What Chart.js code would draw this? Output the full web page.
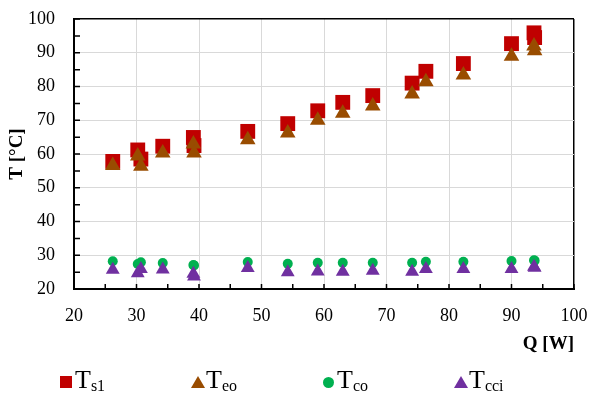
<!DOCTYPE html>
<html>
<head>
<meta charset="utf-8">
<script src="https://cdn.jsdelivr.net/npm/chart.js@4/dist/chart.umd.min.js"></script>
<style>
  body { margin: 0; background: #fff; }
  #wrap { position: relative; width: 590px; height: 397px; }
  #legend { position: absolute; left: 0; top: 0; width: 590px; height: 397px; pointer-events: none;
    font-family: "Liberation Serif", "Times New Roman", serif; color: #000; }
  .item { position: absolute; top: 367px; height: 26px; font-size: 26px; line-height: 26px; white-space: nowrap; }
  .item .txt { position: absolute; left: 15px; top: 0; }
  .item sub { font-size: 16px; vertical-align: -3px; line-height: 0; }
  .mk { position: absolute; }
</style>
</head>
<body>
<div id="wrap">
  <canvas id="chart" width="590" height="397"></canvas>
  <div id="legend"></div>
</div>
<script>
// heat input Q [W]
const qValues = [26.2, 30.2, 30.7, 34.2, 39.1, 39.2, 47.8, 54.2, 59.0, 63.0, 67.8, 74.1, 76.3, 82.3, 90.0, 93.6, 93.7];

// temperatures [°C]
const ts1 = [57.8, 61.2, 58.5, 62.3, 64.9, 62.5, 66.7, 69.0, 72.8, 75.3, 77.3, 81.0, 84.5, 86.8, 92.7, 95.9, 94.5];
const teo = [56.6, 59.4, 56.4, 60.3, 63.0, 60.3, 64.2, 66.2, 70.0, 72.1, 74.2, 77.8, 81.4, 83.4, 89.0, 92.0, 90.6];
const tco = [28.2, 27.4, 27.9, 27.7, 27.1, 27.0, 28.0, 27.5, 27.8, 27.8, 27.8, 27.8, 28.1, 28.1, 28.3, 28.5, 28.4];
const tcci = [25.7, 24.7, 25.9, 25.8, 24.5, 23.7, 26.2, 25.0, 25.2, 25.1, 25.4, 25.1, 25.9, 25.9, 25.9, 26.6, 26.3];

const seriesSubs = ["s1", "eo", "co", "cci"];
const seriesColors = ["#C00000", "#994C00", "#00B050", "#7030A0"];
const seriesStyles = ["rect", "triangle", "circle", "triangle"];
const seriesRadius = [10.5, 9, 5, 8];

const serif = "'Liberation Serif', 'Times New Roman', serif";

function toPoints(ys) {
  return qValues.map((q, i) => ({ x: q, y: ys[i] }));
}

const allSeries = [ts1, teo, tco, tcci];
const datasets = allSeries.map((ys, i) => ({
  label: "T" + seriesSubs[i],
  data: toPoints(ys),
  pointStyle: seriesStyles[i],
  pointRadius: seriesRadius[i],
  pointHoverRadius: seriesRadius[i],
  backgroundColor: seriesColors[i],
  borderColor: seriesColors[i],
  borderWidth: 0,
  order: 4 - i
}));

// small tick marks pointing into the plot
const innerTicks = {
  id: "innerTicks",
  beforeDatasetsDraw(chart) {
    const { ctx, chartArea, scales } = chart;
    ctx.save();
    ctx.strokeStyle = "#000";
    ctx.lineWidth = 1.5;
    ctx.beginPath();
    scales.x.ticks.forEach(t => {
      const px = scales.x.getPixelForValue(t.value);
      ctx.moveTo(px, chartArea.bottom);
      ctx.lineTo(px, chartArea.bottom - 5);
    });
    scales.y.ticks.forEach(t => {
      const py = scales.y.getPixelForValue(t.value);
      ctx.moveTo(chartArea.left, py);
      ctx.lineTo(chartArea.left + 6, py);
    });
    ctx.stroke();
    ctx.restore();
  }
};

function gridColor(c) {
  const v = c.tick.value;
  if (v % 10 !== 0) return "rgba(0,0,0,0)";
  return v === 100 ? "#000" : "#d9d9d9";
}
function gridWidth(c) {
  return c.tick.value === 100 ? 1.5 : 1;
}

const chart = new Chart(document.getElementById("chart").getContext("2d"), {
  type: "scatter",
  data: { datasets },
  options: {
    responsive: false,
    animation: false,
    layout: { padding: { left: 0, right: 16, top: 19, bottom: 40 } },
    plugins: {
      legend: { display: false },
      tooltip: { enabled: false }
    },
    scales: {
      x: {
        type: "linear",
        min: 20, max: 100,
        afterFit: s => { s.height = 68; s.paddingLeft = 0; s.paddingRight = 0; },
        ticks: {
          stepSize: 5,
          padding: 16,
          color: "#000",
          maxRotation: 0,
          autoSkip: false,
          font: { family: serif, size: 18 },
          callback: v => (v % 10 === 0 ? v : "")
        },
        grid: { color: gridColor, lineWidth: gridWidth, drawTicks: false },
        border: { display: true, color: "#000", width: 2 },
        title: {
          display: true, text: "Q [W]", align: "end", color: "#000",
          font: { family: serif, size: 19, weight: "bold" },
          padding: { top: 0, bottom: 2 }
        }
      },
      y: {
        min: 20, max: 100,
        afterFit: s => { s.width = 74; s.paddingTop = 0; s.paddingBottom = 0; },
        ticks: {
          stepSize: 5,
          padding: 19,
          color: "#000",
          autoSkip: false,
          font: { family: serif, size: 18 },
          callback: v => (v % 10 === 0 ? v : "")
        },
        grid: { color: gridColor, lineWidth: gridWidth, drawTicks: false },
        border: { display: true, color: "#000", width: 2 },
        title: {
          display: true, text: "T [°C]", color: "#000",
          font: { family: serif, size: 19, weight: "bold" },
          padding: { top: 6, bottom: 0 }
        }
      }
    }
  },
  plugins: [innerTicks]
});

// HTML legend so the subscripts stay as real text
const legendLeft = [60, 191, 322, 454];
const legend = document.getElementById("legend");
chart.data.datasets.forEach((ds, i) => {
  const item = document.createElement("div");
  item.className = "item";
  item.style.left = legendLeft[i] + "px";
  const mk = document.createElement("div");
  mk.className = "mk";
  const col = seriesColors[i];
  if (seriesStyles[i] === "rect") {
    Object.assign(mk.style, { left: "0px", top: "9px", width: "12px", height: "12px", background: col });
  } else if (seriesStyles[i] === "circle") {
    Object.assign(mk.style, { left: "1px", top: "10px", width: "11px", height: "11px", background: col, borderRadius: "50%" });
  } else {
    Object.assign(mk.style, { left: "0px", top: "9px", width: "0", height: "0",
      borderLeft: "7px solid transparent", borderRight: "7px solid transparent", borderBottom: "12px solid " + col });
  }
  item.appendChild(mk);
  const txt = document.createElement("span");
  txt.className = "txt";
  txt.innerHTML = "T<sub>" + seriesSubs[i] + "</sub>";
  item.appendChild(txt);
  legend.appendChild(item);
});
</script>
</body>
</html>
